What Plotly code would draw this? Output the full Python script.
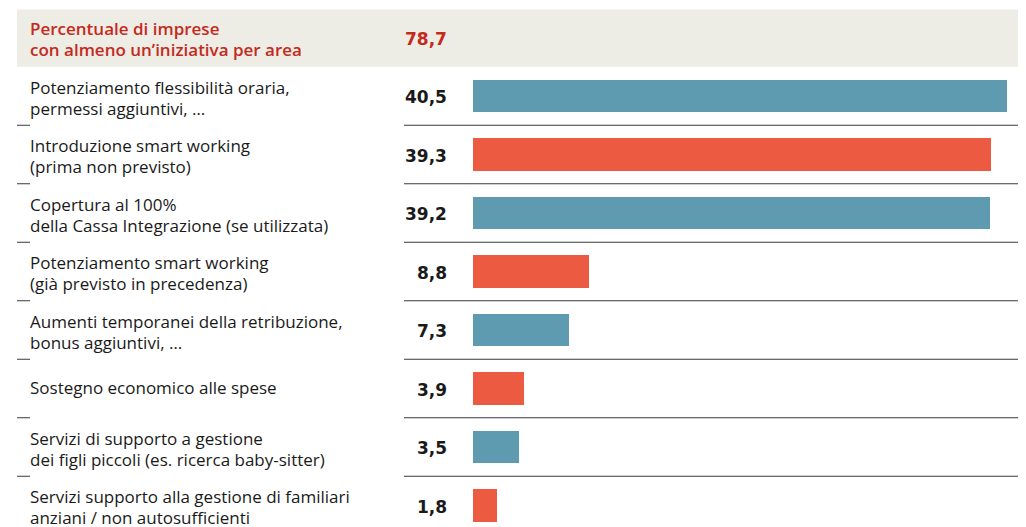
import plotly.graph_objects as go

categories = [
    "Potenziamento flessibilità oraria,<br>permessi aggiuntivi, …",
    "Introduzione smart working<br>(prima non previsto)",
    "Copertura al 100%<br>della Cassa Integrazione (se utilizzata)",
    "Potenziamento smart working<br>(già previsto in precedenza)",
    "Aumenti temporanei della retribuzione,<br>bonus aggiuntivi, …",
    "Sostegno economico alle spese",
    "Servizi di supporto a gestione<br>dei figli piccoli (es. ricerca baby-sitter)",
    "Servizi supporto alla gestione di familiari<br>anziani / non autosufficienti",
]
values = [40.5, 39.3, 39.2, 8.8, 7.3, 3.9, 3.5, 1.8]
value_labels = ["40,5", "39,3", "39,2", "8,8", "7,3", "3,9", "3,5", "1,8"]
header_label = "Percentuale di imprese<br>con almeno un’iniziativa per area"
header_value = "78,7"

BLUE = "#5e9ab0"
RED = "#ec5b41"
HEAD_RED = "#c42a1c"
colors = [BLUE if i % 2 == 0 else RED for i in range(len(values))]

W, H = 1026, 527
OFF = 8  # page offset of the figure inside the browser body
rows = list(range(1, len(values) + 1))

# pixel mapping (page pixels)
px_per_unit = 13.19
x0_px = 473 - OFF
row0_px = 37.5 - OFF
row_px = 58.5

x_range = [-x0_px / px_per_unit, (W - x0_px) / px_per_unit]
y_range = [(H - row0_px) / row_px, -row0_px / row_px]


def px(x):
    return (x - OFF) / W


def dy(p):
    return p / row_px


LFONT = "Open Sans"
VFONT = "DejaVu Sans"

fig = go.Figure()
fig.add_trace(go.Bar(
    y=rows, x=values, orientation="h",
    marker=dict(color=colors, line=dict(width=0)),
    width=0.55, hoverinfo="skip",
))

shapes = []
shapes.append(dict(type="rect", xref="paper", yref="y",
                   x0=px(17), x1=1.05, y0=-0.48, y1=0.5,
                   fillcolor="#edece5", line=dict(width=0), layer="below"))
for i in range(1, len(values)):
    y = i + 0.5
    shapes.append(dict(type="line", xref="paper", yref="y",
                       x0=px(404), x1=1.05, y0=y, y1=y,
                       line=dict(color="#3a3a3a", width=1)))
    shapes.append(dict(type="line", xref="paper", yref="y",
                       x0=px(17), x1=px(30), y0=y, y1=y,
                       line=dict(color="#3a3a3a", width=1)))

annotations = []


def add_label(text, row, color, weight):
    lines = text.split("<br>")
    if len(lines) == 1:
        offs = [-1.5]
    else:
        offs = [-9.0, 12.0]
    for ln, o in zip(lines, offs):
        annotations.append(dict(xref="paper", yref="y", x=px(28.5), y=row + dy(o), text=ln,
                                showarrow=False, xanchor="left", yanchor="middle", align="left",
                                borderpad=0,
                                font=dict(family=LFONT, size=17, color=color, weight=weight)))


add_label(header_label, 0, HEAD_RED, 600)
annotations.append(dict(xref="paper", yref="y", x=px(448), y=dy(1), text=header_value,
                        showarrow=False, xanchor="right", yanchor="middle", borderpad=0,
                        font=dict(family=VFONT, size=17, color=HEAD_RED, weight=700)))
for r, lab, vl in zip(rows, categories, value_labels):
    add_label(lab, r, "#1a1a1a", 400)
    annotations.append(dict(xref="paper", yref="y", x=px(448), y=r + dy(1), text=vl,
                            showarrow=False, xanchor="right", yanchor="middle", borderpad=0,
                            font=dict(family=VFONT, size=17, color="#1a1a1a", weight=700)))

fig.update_layout(
    width=W, height=H,
    margin=dict(l=0, r=0, t=0, b=0),
    paper_bgcolor="white", plot_bgcolor="white",
    showlegend=False,
    xaxis=dict(range=x_range, visible=False, fixedrange=True),
    yaxis=dict(range=y_range, visible=False, fixedrange=True),
    shapes=shapes, annotations=annotations,
    bargap=0,
)

fig.write_html("out.html", config={"displayModeBar": False})
